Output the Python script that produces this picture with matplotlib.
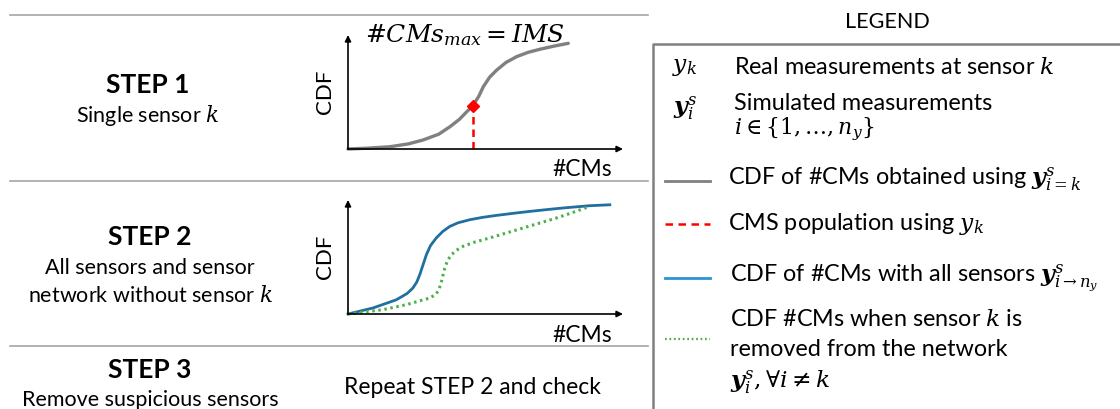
import matplotlib.pyplot as plt

plt.rcParams["font.family"] = ["Lato", "DejaVu Sans"]
plt.rcParams["mathtext.fontset"] = "dejavuserif"

# curve (x: #CMs, y: CDF, both scaled 0..1)
cdf_single_x = [0.0, 0.07, 0.153, 0.22, 0.274, 0.33, 0.371, 0.405, 0.432, 0.453,
                0.475, 0.492, 0.515, 0.541, 0.575, 0.613, 0.655, 0.698, 0.75, 0.801]
cdf_single_y = [0.0, 0.007, 0.02, 0.045, 0.08, 0.13, 0.196, 0.26, 0.327, 0.377,
                0.46, 0.546, 0.63, 0.693, 0.76, 0.81, 0.848, 0.875, 0.903, 0.927]
ims_x = 0.453
ims_y = 0.377

# curves
cdf_all_x = [0.0, 0.091, 0.176, 0.215, 0.236, 0.25, 0.261, 0.285, 0.30, 0.321, 0.345,
             0.370, 0.40, 0.443, 0.49, 0.540, 0.60, 0.661, 0.72, 0.782, 0.879, 0.952]
cdf_all_y = [0.0, 0.053, 0.125, 0.18, 0.228, 0.28, 0.345, 0.520, 0.60, 0.667, 0.725,
             0.768, 0.80, 0.827, 0.848, 0.865, 0.883, 0.900, 0.915, 0.930, 0.950, 0.958]
cdf_wo_x = [0.0, 0.127, 0.212, 0.297, 0.318, 0.327, 0.334, 0.340, 0.346, 0.352, 0.362,
            0.376, 0.395, 0.418, 0.46, 0.515, 0.575, 0.636, 0.70, 0.758, 0.82, 0.879]
cdf_wo_y = [0.0, 0.038, 0.082, 0.140, 0.17, 0.198, 0.24, 0.286, 0.345, 0.403, 0.47,
            0.520, 0.56, 0.593, 0.63, 0.667, 0.71, 0.754, 0.80, 0.842, 0.893, 0.944]

GREY = "#808080"
RED = "#ff0000"
BLUE = "#1f6fa0"
BLUE_LEG = "#2b95d4"
GREEN = "#4cb04a"
W, H = 1120, 409
FS_LEG = 16.8
FS_STEP = 19
FS_DESC = 15.5

fig = plt.figure(figsize=(W / 100, H / 100), dpi=100)
ax = fig.add_axes([0, 0, 1, 1])
ax.set_xlim(0, W)
ax.set_ylim(H, 0)
ax.axis("off")


def panel(x0, y0, w, h):
    a = fig.add_axes([x0 / W, (H - y0) / H, w / W, h / H])
    a.set_xlim(0, 1)
    a.set_ylim(0, 1)
    a.axis("off")
    arrow = dict(arrowstyle="-|>", color="black", lw=1.2, mutation_scale=9,
                 shrinkA=0, shrinkB=0)
    a.annotate("", xy=(1, 0), xytext=(0, 0), xycoords="axes fraction", arrowprops=arrow)
    a.annotate("", xy=(0, 1), xytext=(0, 0), xycoords="axes fraction", arrowprops=arrow)
    return a


# separators
for y in [15, 181, 346]:
    ax.plot([10, 648], [y, y], color="#a6a6a6", lw=1.2)

# cut-off caption glyph at the very top
ax.text(34, -3, "g", fontsize=13, va="baseline", ha="left", color="black")

# step labels
ax.text(148, 85, "STEP 1", fontsize=FS_STEP, fontweight="bold", ha="center", va="center")
ax.text(148, 115, r"Single sensor $k$", fontsize=FS_DESC, ha="center", va="center")
ax.text(150, 237, "STEP 2", fontsize=FS_STEP, fontweight="bold", ha="center", va="center")
ax.text(150, 268, "All sensors and sensor", fontsize=FS_DESC, ha="center", va="center")
ax.text(150, 295, r"network without sensor $k$", fontsize=FS_DESC, ha="center", va="center")
ax.text(150, 370, "STEP 3", fontsize=FS_STEP, fontweight="bold", ha="center", va="center")
ax.text(150, 400, "Remove suspicious sensors", fontsize=FS_DESC, ha="center", va="center")
ax.text(472, 388, "Repeat STEP 2 and check", fontsize=16.5, ha="center", va="center")

# STEP 1 panel
p1 = panel(348, 149, 275, 114)
p1.plot(cdf_single_x, cdf_single_y, color=GREY, lw=2.4, solid_capstyle="round", clip_on=False)
p1.plot([ims_x, ims_x], [0, ims_y], color=RED, lw=1.8, ls=(0, (3, 2)))
p1.plot([ims_x], [ims_y], marker="D", color=RED, ms=6, zorder=5)
ax.text(365, 35, r"#$CMs_{max} = IMS$", fontsize=18, ha="left", va="center",
        family="DejaVu Serif", style="italic")
ax.text(325, 92, "CDF", fontsize=16, rotation=90, ha="center", va="center")
ax.text(582, 170, "#CMs", fontsize=16.5, ha="center", va="center")

# STEP 2 panel
p2 = panel(348, 314, 275, 114)
p2.plot(cdf_all_x, cdf_all_y, color=BLUE, lw=2.0, clip_on=False)
p2.plot(cdf_wo_x, cdf_wo_y, color=GREEN, lw=2.2, ls=(0, (0.8, 1.2)), clip_on=False)
ax.text(325, 257, "CDF", fontsize=16, rotation=90, ha="center", va="center")
ax.text(582, 336, "#CMs", fontsize=16.5, ha="center", va="center")

# legend
ax.text(887, 22, "LEGEND", fontsize=15.5, ha="center", va="center")
ax.plot([653, 653, W + 5], [H + 5, 44, 44], color=GREY, lw=1.8, clip_on=False)

ax.text(685, 68, r"$y_k$", fontsize=FS_LEG, ha="center", va="center")
ax.text(734, 68, r"Real measurements at sensor $k$", fontsize=FS_LEG, ha="left", va="center")
ax.text(685, 108, r"$\mathbfit{y}_i^s$", fontsize=FS_LEG, ha="center", va="center")
ax.text(734, 103, "Simulated measurements", fontsize=FS_LEG, ha="left", va="center")
ax.text(734, 129, r"$i \in \{1, \ldots, n_y\}$", fontsize=FS_LEG - 1, ha="left", va="center")

ax.plot([665, 710], [181, 181], color=GREY, lw=2.0)
ax.text(728, 180, r"CDF of #CMs obtained using $\mathbfit{y}_{i=k}^s$", fontsize=FS_LEG,
        ha="left", va="center")
ax.plot([665, 710], [224, 224], color=RED, lw=1.8, ls=(0, (3, 2.2)))
ax.text(728, 224, r"CMS population using $y_k$", fontsize=FS_LEG, ha="left", va="center")
ax.plot([665, 710], [278, 278], color=BLUE_LEG, lw=2.0)
ax.text(730, 278, r"CDF of #CMs with all sensors $\mathbfit{y}_{i\rightarrow n_y}^s$",
        fontsize=FS_LEG, ha="left", va="center")
ax.plot([665, 710], [339, 339], color=GREEN, lw=1.6, ls=(0, (0.8, 1.2)))
ax.text(730, 320, r"CDF #CMs when sensor $k$ is", fontsize=FS_LEG, ha="left", va="center")
ax.text(730, 350, "removed from the network", fontsize=FS_LEG, ha="left", va="center")
ax.text(730, 382, r"$\mathbfit{y}_i^s, \forall i \neq k$", fontsize=FS_LEG, ha="left", va="center")

fig.savefig("out.png", dpi=100)
